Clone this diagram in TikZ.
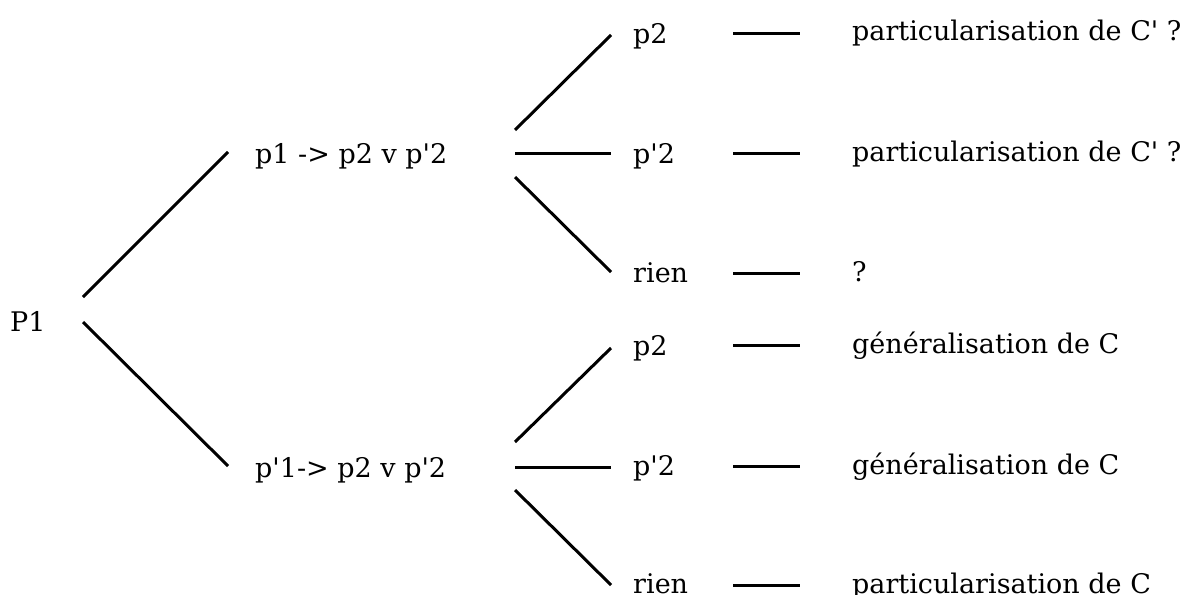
\documentclass[tikz,border=0pt]{standalone}
\usepackage{fontspec}
\setmainfont{DejaVu Serif}
\newcommand{\q}{\textquotesingle}
\begin{document}
\begin{tikzpicture}[x=1pt,y=-1pt,
  lbl/.style={anchor=base west,inner sep=0pt,font=\fontsize{27}{31}\selectfont},
  conn/.style={line width=3pt,line cap=butt}]
\useasboundingbox (0,0) rectangle (1201,594);
% labels
\node[lbl] (P1) at (10,331) {P1};
\node[lbl] (A) at (255,163) {p1 -> p2 v p\q2};
\node[lbl] (B) at (255,477) {p\q1-> p2 v p\q2};
\node[lbl] (a1) at (633,44) {p2};
\node[lbl] (a2) at (633,163) {p\q2};
\node[lbl] (a3) at (633,282) {rien};
\node[lbl] (b1) at (633,355) {p2};
\node[lbl] (b2) at (633,475) {p\q2};
\node[lbl] (b3) at (633,593) {rien};
\node[lbl] (ra1) at (852,41) {particularisation de C\q{} ?};
\node[lbl] (ra2) at (852,161) {particularisation de C\q{} ?};
\node[lbl] (ra3) at (852,281) {?};
\node[lbl] (rb1) at (852,353) {généralisation de C};
\node[lbl] (rb2) at (852,474) {généralisation de C};
\node[lbl] (rb3) at (852,593) {particularisation de C};
% connector end points
\coordinate (P1u) at (83,297);  \coordinate (Ain) at (228,152);
\coordinate (P1d) at (83,322);  \coordinate (Bin) at (228,466);
\coordinate (Aou) at (515,130); \coordinate (a1in) at (611,35);
\coordinate (Aom) at (515,153); \coordinate (a2in) at (611,153);
\coordinate (Aod) at (515,177); \coordinate (a3in) at (611,272);
\coordinate (Bou) at (515,442); \coordinate (b1in) at (611,348);
\coordinate (Bom) at (515,467); \coordinate (b2in) at (611,467);
\coordinate (Bod) at (515,490); \coordinate (b3in) at (611,585);
\coordinate (a1o) at (733,34);  \coordinate (ra1in) at (800,34);
\coordinate (a2o) at (733,153); \coordinate (ra2in) at (800,153);
\coordinate (a3o) at (733,273); \coordinate (ra3in) at (800,273);
\coordinate (b1o) at (733,345); \coordinate (rb1in) at (800,345);
\coordinate (b2o) at (733,466); \coordinate (rb2in) at (800,466);
\coordinate (b3o) at (733,585); \coordinate (rb3in) at (800,585);
% connectors
\draw[conn] (P1u) -- (Ain);
\draw[conn] (P1d) -- (Bin);
\draw[conn] (Aou) -- (a1in);
\draw[conn] (Aom) -- (a2in);
\draw[conn] (Aod) -- (a3in);
\draw[conn] (Bou) -- (b1in);
\draw[conn] (Bom) -- (b2in);
\draw[conn] (Bod) -- (b3in);
\draw[conn] (a1o) -- (ra1in);
\draw[conn] (a2o) -- (ra2in);
\draw[conn] (a3o) -- (ra3in);
\draw[conn] (b1o) -- (rb1in);
\draw[conn] (b2o) -- (rb2in);
\draw[conn] (b3o) -- (rb3in);
\end{tikzpicture}
\end{document}
